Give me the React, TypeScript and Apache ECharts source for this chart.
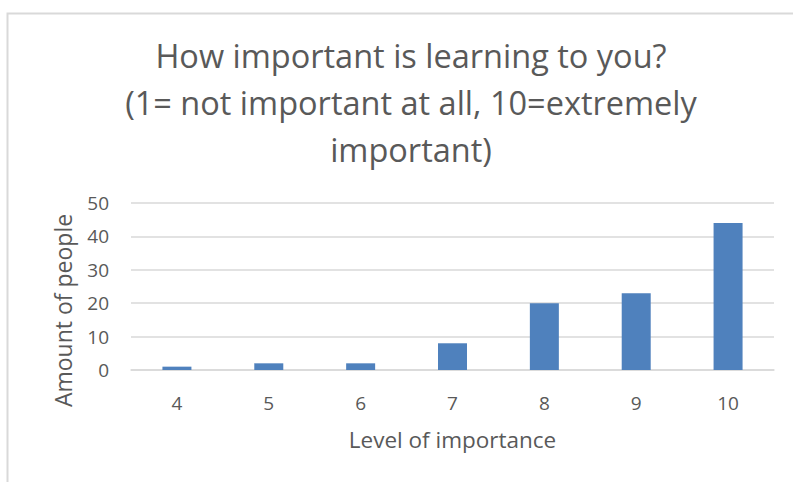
import React, { useEffect, useRef } from "react";
import * as echarts from "echarts";

const categories = ["4", "5", "6", "7", "8", "9", "10"];
const values = [1, 2, 2, 8, 20, 23, 44];
const titleText = "How important is learning to you?\n(1= not important at all, 10=extremely\nimportant)";
const yAxisName = "Amount of people";
const xAxisName = "Level of importance";

export default function App() {
  const ref = useRef<HTMLDivElement>(null);
  useEffect(() => {
    if (!ref.current) return;
    const chart = echarts.init(ref.current, null, { renderer: "svg" });
    const font = "'Open Sans', 'Noto Sans', sans-serif";
    chart.setOption({
      animation: false,
      backgroundColor: "#ffffff",
      title: {
        text: titleText,
        left: 406,
        top: 27,
        textAlign: "center",
        textStyle: {
          fontFamily: font,
          fontSize: 32.5,
          fontWeight: "normal",
          color: "#595959",
          lineHeight: 47,
        },
      },
      graphic: [
        {
          type: "rect",
          shape: { x: 7.5, y: 13.5, width: 1200, height: 1200 },
          style: { fill: "none", stroke: "#d9d9d9", lineWidth: 2 },
          silent: true,
        },
      ],
      grid: { left: 131, right: 19, top: 203, bottom: 112 },
      xAxis: {
        type: "category",
        data: categories,
        name: xAxisName,
        nameLocation: "middle",
        nameGap: 58,
        nameTextStyle: { fontFamily: font, fontSize: 22.5, color: "#595959" },
        axisLine: { lineStyle: { color: "#d9d9d9", width: 1.5 } },
        axisTick: { show: false },
        axisLabel: { fontFamily: font, fontSize: 19, color: "#595959", margin: 23 },
      },
      yAxis: {
        type: "value",
        min: 0,
        max: 50,
        interval: 10,
        name: yAxisName,
        nameLocation: "middle",
        nameGap: 57,
        nameRotate: 90,
        nameTextStyle: {
          fontFamily: font,
          fontSize: 23,
          color: "#595959",
          padding: [0, 48, 0, 0],
        },
        axisLine: { show: false },
        axisTick: { show: false },
        axisLabel: { fontFamily: font, fontSize: 19, color: "#595959", margin: 22 },
        splitLine: { lineStyle: { color: "#d9d9d9", width: 1.5 } },
      },
      series: [
        {
          type: "bar",
          data: values,
          barWidth: 29,
          itemStyle: { color: "#4f81bd" },
        },
      ],
    });
    return () => chart.dispose();
  }, []);
  return (
    <div
      ref={ref}
      style={{ position: "fixed", left: 0, top: 0, width: 793, height: 482 }}
    />
  );
}
